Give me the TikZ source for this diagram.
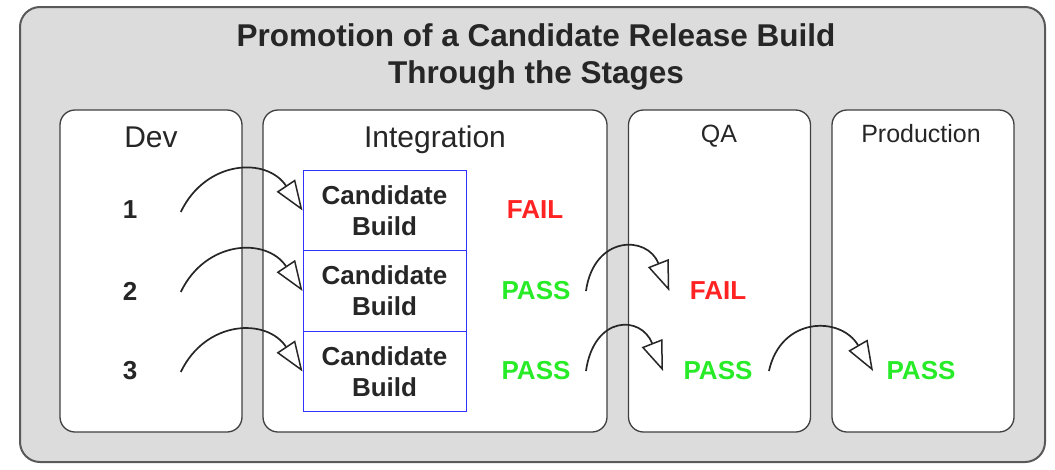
\documentclass[tikz,border=0pt]{standalone}
\usepackage{fontspec}
\setmainfont{Liberation Sans}
\usetikzlibrary{arrows.meta}
\definecolor{passgreen}{RGB}{40,235,40}
\definecolor{failred}{RGB}{255,35,35}
\definecolor{buildblue}{RGB}{50,50,255}
\definecolor{outergray}{RGB}{220,220,220}

\begin{document}
\begin{tikzpicture}[x=1pt,y=1pt,
  stage/.style={draw=black!75,line width=1.3pt,fill=white,rounded corners=15pt,minimum width=182pt,minimum height=322pt},
  stagename/.style={anchor=base,font=\fontsize{30}{36}\selectfont,text=black!85},
  build/.style={draw=buildblue,line width=1pt,fill=white,minimum width=163pt,minimum height=80.7pt,align=center,font=\fontsize{26}{31}\selectfont\bfseries,text=black!85},
  result/.style={font=\fontsize{26}{31}\selectfont\bfseries},
  pass/.style={result,text=passgreen},
  fail/.style={result,text=failred},
  promote/.style={line width=1.7pt,black!85,-{Triangle[length=30pt,width=22pt,fill=white,line width=1.5pt]}}
]
\useasboundingbox (0,0) rectangle (1055,-469);
\draw[fill=outergray,draw=black!65,line width=2pt,rounded corners=20pt] (20,-7) rectangle (1045,-462);
\node[font=\fontsize{31.5}{37}\selectfont\bfseries,align=center,text=black!85] (title) at (536,-57) {Promotion of a Candidate Release Build\\Through the Stages};

\node[stage] (dev) at (151,-271) {};
\node[stage,minimum width=344pt] (integ) at (435,-271) {};
\node[stage] (qa) at (719.5,-271) {};
\node[stage] (prod) at (923,-271) {};
\node[stagename] (devname) at (151,-147) {Dev};
\node[stagename] (integname) at (435,-147) {Integration};
\node[stagename,font=\fontsize{25}{30}\selectfont] (qaname) at (719,-142) {QA};
\node[stagename,font=\fontsize{25}{30}\selectfont] (prodname) at (921,-142) {Production};

\node[build] (b1) at (384.5,-210.5) {Candidate\\Build};
\node[build] (b2) at (384.5,-291) {Candidate\\Build};
\node[build] (b3) at (384.5,-371.5) {Candidate\\Build};

\node[result,text=black!85] (n1) at (130,-210) {1};
\node[result,text=black!85] (n2) at (130,-291) {2};
\node[result,text=black!85] (n3) at (130,-371) {3};

\node[fail] (intfail) at (535,-210) {FAIL};
\node[pass] (intpass2) at (536,-291) {PASS};
\node[pass] (intpass3) at (536,-371) {PASS};
\node[fail] (qafail) at (718,-291) {FAIL};
\node[pass] (qapass) at (718,-371) {PASS};
\node[pass] (prodpass) at (921,-371) {PASS};

\draw[promote] ([xshift=40pt,yshift=-2pt]n1.east) .. controls +(25,52) and +(-36,54) .. (b1.west);
\draw[promote] ([xshift=40pt,yshift=-1pt]n2.east) .. controls +(25,52) and +(-36,54) .. (b2.west);
\draw[promote] ([xshift=40pt,yshift=-1pt]n3.east) .. controls +(25,52) and +(-36,54) .. (b3.west);
\draw[promote] ([xshift=12pt]intpass2.east) .. controls +(8,56) and +(-22,56) .. ([xshift=-17pt]qafail.west);
\draw[promote] ([xshift=12pt]intpass3.east) .. controls +(8,56) and +(-22,56) .. ([xshift=-17pt]qapass.west);
\draw[promote] ([xshift=13pt]qapass.east) .. controls +(12,55) and +(-32,55) .. ([xshift=-10pt]prodpass.west);
\end{tikzpicture}
\end{document}
